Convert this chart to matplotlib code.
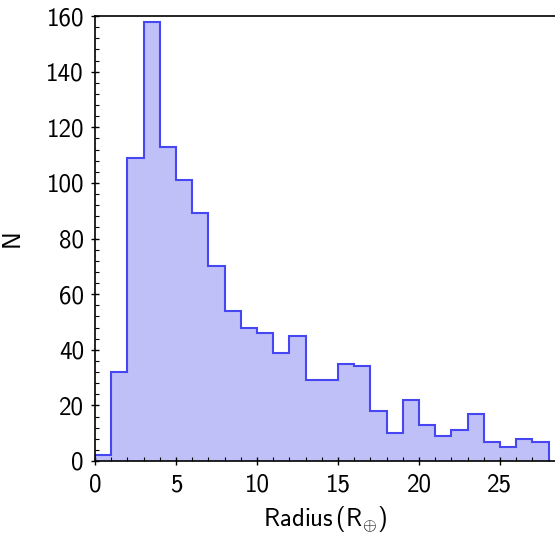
import numpy as np
import matplotlib
matplotlib.use("Agg")
import matplotlib.pyplot as plt
from matplotlib.ticker import MultipleLocator

# histogram of planet radii, bin width 1 R_earth
bin_edges = np.arange(0, 29, 1)
counts = [2, 32, 109, 158, 113, 101, 89, 70, 54, 48, 46, 39, 45, 29,
          29, 35, 34, 18, 10, 22, 13, 9, 11, 17, 7, 5, 8, 7]

plt.rcParams['font.family'] = ['cmss10', 'DejaVu Sans']
plt.rcParams['mathtext.fontset'] = 'custom'
plt.rcParams['mathtext.rm'] = 'cmss10'
plt.rcParams['mathtext.it'] = 'cmss10'
plt.rcParams['axes.unicode_minus'] = False

fig = plt.figure(figsize=(5.55, 5.35), dpi=100)
ax = fig.add_axes([95 / 555, 74 / 535, 460 / 555, 445 / 535])

ax.stairs(counts, bin_edges, fill=True, color='#bfc0f8', zorder=1)
ax.stairs(counts, bin_edges, color='#4646f2', linewidth=1.5, zorder=2)

ax.set_xlim(0, 28.4)
ax.set_ylim(0, 160)
ax.xaxis.set_major_locator(MultipleLocator(5))
ax.xaxis.set_minor_locator(MultipleLocator(1))
ax.yaxis.set_major_locator(MultipleLocator(20))
ax.yaxis.set_minor_locator(MultipleLocator(4))
ax.tick_params(which='major', direction='inout', length=6, width=1, labelsize=18)
ax.tick_params(axis='x', which='major', pad=6)
ax.tick_params(axis='y', which='major', pad=5)
ax.tick_params(which='minor', direction='in', length=3, width=0.8)
ax.tick_params(top=False, right=False)

ax.spines['right'].set_visible(False)
for s in ['left', 'bottom', 'top']:
    ax.spines[s].set_linewidth(1.2)

ax.set_xlabel(r'Radius$\,(\mathrm{R}_{\oplus})$', fontsize=18, labelpad=6)
ax.set_ylabel('N', fontsize=18, labelpad=16)

fig.savefig('out.png', dpi=100)
